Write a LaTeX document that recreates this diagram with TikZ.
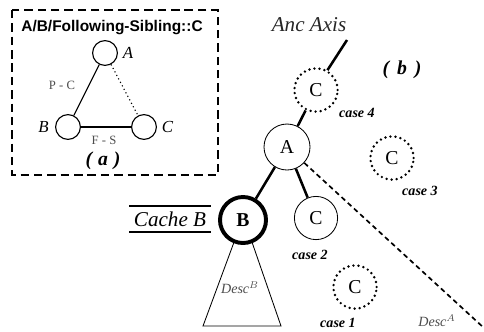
\documentclass[tikz,border=0pt]{standalone}
\usepackage{fontspec}
\setmainfont{Liberation Serif}
\newfontfamily\titlefont{Liberation Sans}
\usetikzlibrary{positioning,calc}

\tikzset{
  knot/.style={circle, draw, thick, minimum size=0.62cm, inner sep=0pt},
  tnode/.style={circle, draw, semithick, minimum size=1.15cm, inner sep=0pt, font=\fontsize{14}{14}\selectfont},
  ghost/.style={tnode, minimum size=1.08cm, line width=1.9pt, dash pattern=on 0pt off 3.6pt, line cap=round},
  caselab/.style={font=\fontsize{10}{10}\selectfont\bfseries\itshape},
  biglab/.style={font=\fontsize{15}{15}\selectfont\itshape},
  desclab/.style={font=\fontsize{10}{10}\selectfont\itshape, text=black!70},
  edgelab/.style={font=\fontsize{9}{9}\selectfont, text=black!70},
  caplab/.style={font=\fontsize{14}{14}\selectfont\bfseries\itshape}
}

\begin{document}
\begin{tikzpicture}[x=0.025cm, y=-0.025cm]
  \useasboundingbox (0,0) rectangle (484,331);

  % (a) query pattern
  \draw[line width=1.1pt, dash pattern=on 6pt off 3.5pt] (12,10) rectangle (218,175);
  \node[font=\titlefont\bfseries\fontsize{11}{11}\selectfont] (title) at (112,28) {A/B/Following-Sibling::C};

  \node[knot] (qA) at (105,53) {};
  \node[knot] (qB) at (68,127) {};
  \node[knot] (qC) at (144,127) {};
  \node[font=\fontsize{12}{12}\selectfont\itshape, right=0pt of qA] (lA) {A};
  \node[font=\fontsize{12}{12}\selectfont\itshape, left=1pt of qB] (lB) {B};
  \node[font=\fontsize{12}{12}\selectfont\itshape, right=0pt of qC] (lC) {C};

  \draw[thick] (qA) -- (qB);
  \draw[thick] (qB) -- (qC);
  \draw[thick, dotted] (qA) -- (qC);

  \node[edgelab] (pc) at (62,85) {P - C};
  \node[edgelab] (fs) at (104,140) {F - S};
  \node[caplab] (capA) at (103,161) {(\hspace{0.3em}a\hspace{0.3em})};

  % (b) the tree
  \node[biglab, text=black!85] (anc) at (309,25) {Anc Axis};
  \coordinate (ancend) at (347,40);
  \node[caplab] (capB) at (402,70) {(\hspace{0.4em}b\hspace{0.4em})};

  \node[tnode] (nA) at (287,147) {A};
  \node[ghost] (c4) at (316,90) {C};
  \node[tnode, line width=2.8pt, font=\fontsize{14}{14}\selectfont\bfseries] (nB) at (243,220) {B};
  \node[tnode, minimum size=1.08cm] (c2) at (316,218) {C};
  \node[ghost] (c3) at (392,158) {C};
  \node[ghost] (c1) at (355,287) {C};

  \draw[line width=1.8pt] (c4.60) -- (ancend);
  \draw[line width=1.8pt] (nA) -- (c4);
  \draw[line width=1.8pt] (nA) -- (nB);
  \draw[line width=1.8pt] (nA) -- (c2);

  % descendants of A
  \coordinate (descA) at (484,328);
  \draw[line width=1.2pt, dash pattern=on 3.5pt off 2.5pt] (nA) -- (descA);
  \node[desclab] (dA) at (437,321) {Desc$^{A}$};

  % descendants of B
  \coordinate (descBl) at (203,326);
  \coordinate (descBr) at (281,326);
  \draw[semithick] (nB.-112) -- (descBl) -- (descBr) -- (nB.-68);
  \node[desclab] (dB) at (240,288) {Desc$^{B}$};

  % cache
  \node[biglab] (cache) at (170,219) {Cache B};
  \draw[line width=1.4pt] ($(cache.north west)+(0,-1)$) -- ($(cache.north east)+(0,-1)$);
  \draw[line width=1.4pt] ($(cache.south west)+(0,1)$) -- ($(cache.south east)+(0,1)$);

  % cases
  \node[caselab] (k4) at (357,113) {case 4};
  \node[caselab] (k3) at (420,191) {case 3};
  \node[caselab] (k2) at (310,255) {case 2};
  \node[caselab] (k1) at (338,323) {case 1};
\end{tikzpicture}
\end{document}
